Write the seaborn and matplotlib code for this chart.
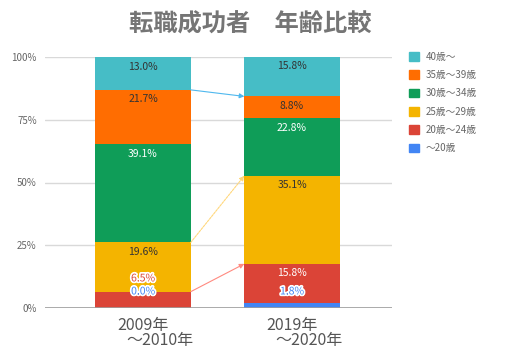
import matplotlib
matplotlib.use("Agg")
import matplotlib.pyplot as plt
import matplotlib.patheffects as pe
from matplotlib.patches import Patch
import numpy as np
import seaborn as sns

sns.set_theme(style="white")
plt.rcParams['font.family'] = ['Noto Sans CJK JP', 'DejaVu Sans']

# ---- data ----
periods = ["2009年～2010年", "2019年～2020年"]
tick_line1 = ["2009年", "2019年"]
tick_line2 = ["～2010年", "～2020年"]
ages = ["～20歳", "20歳～24歳", "25歳～29歳", "30歳～34歳", "35歳～39歳", "40歳～"]
values_2009 = [0.0, 6.5, 19.6, 39.1, 21.7, 13.0]
values_2019 = [1.8, 15.8, 35.1, 22.8, 8.8, 15.8]
colors = ["#4285F4", "#DB4437", "#F4B400", "#0F9D58", "#FF6D01", "#46BDC6"]
label_colors = ["white", "white", "#333333", "white", "#333333", "#333333"]
title = "転職成功者　年齢比較"

data = np.array([values_2009, values_2019])  # rows: periods, cols: ages

fig = plt.figure(figsize=(5.12, 3.56), dpi=100)
ax = fig.add_axes([45/512, 1-308/356, (392-45)/512, (308-57)/356])

bar_w = 0.64
bottoms = np.zeros(len(periods))
for i, age in enumerate(ages):
    sns.barplot(x=periods, y=data[:, i], bottom=bottoms, color=colors[i],
                width=bar_w, ax=ax, saturation=1, linewidth=0)
    bottoms = bottoms + data[:, i]

ax.set_xlim(-0.658, 1.671)
ax.set_ylim(0, 100)
ax.set_yticks([0, 25, 50, 75, 100])
ax.set_yticklabels([f"{t}%" for t in [0, 25, 50, 75, 100]], fontsize=7, color="#666666")
ax.tick_params(axis="y", length=0, pad=6)
ax.tick_params(axis="x", length=0)
ax.set_xticks([0, 1])
ax.set_xticklabels(["", ""])
for s in ax.spines.values():
    s.set_visible(False)
ax.yaxis.grid(True, color="#d9d9d9", linewidth=1)
ax.set_axisbelow(True)
ax.axhline(0, color="#9e9e9e", linewidth=1.2, zorder=3)
ax.set_xlabel("")

# two-line category labels
for k in range(len(periods)):
    ax.text(k, -3.5, tick_line1[k], ha="center", va="top", fontsize=11.5,
            color="#555555", transform=ax.transData, clip_on=False)
    ax.text(k + 0.115, -9.6, tick_line2[k], ha="center", va="top", fontsize=11.5,
            color="#555555", transform=ax.transData, clip_on=False)

# segment labels
off = 3.8
stroke = [pe.withStroke(linewidth=2.5, foreground="white")]
for k in range(len(periods)):
    cum = np.cumsum(data[k])
    blue_y = 6.6
    for i in range(len(ages)):
        top = cum[i]
        y = top - off
        col = label_colors[i]
        eff = None
        if i == 0:
            y = blue_y
            col = colors[i]
            eff = stroke
        elif i == 1:
            y = max(top - off, blue_y + 5.2)
            if y > top:
                col = colors[i]
                eff = stroke
        ax.text(k, y, f"{data[k, i]:.1f}%", ha="center", va="center",
                fontsize=7.5, color=col, path_effects=eff, zorder=5)

# arrows between bars
arrow_cols = {4: "#4FB8EE", 2: "#FFD77A", 1: "#FF8A80"}
cum0 = np.cumsum(data[0])
cum1 = np.cumsum(data[1])
for i, ac in arrow_cols.items():
    ax.annotate("", xy=(1 - bar_w/2, cum1[i]), xytext=(bar_w/2, cum0[i]),
                arrowprops=dict(arrowstyle="-|>", color=ac, lw=0.8,
                                mutation_scale=7, shrinkA=0, shrinkB=0,
                                linestyle=(0, (2, 1)) if i == 2 else "-"),
                zorder=4)

# title
fig.text(250/512, 1-25/356, title, ha="center", va="center", fontsize=17.5,
         fontweight="bold", color="#757575")

# legend
handles = [Patch(facecolor=colors[i], edgecolor=colors[i], label=ages[i])
           for i in reversed(range(len(ages)))]
fig.legend(handles=handles, loc="upper left", bbox_to_anchor=(405/512, 1-48/356),
           frameon=False, fontsize=7, handlelength=1.0, handleheight=1.0,
           handletextpad=0.7, labelspacing=0.85, labelcolor="#666666",
           borderaxespad=0)

fig.savefig("out.png", dpi=100)
